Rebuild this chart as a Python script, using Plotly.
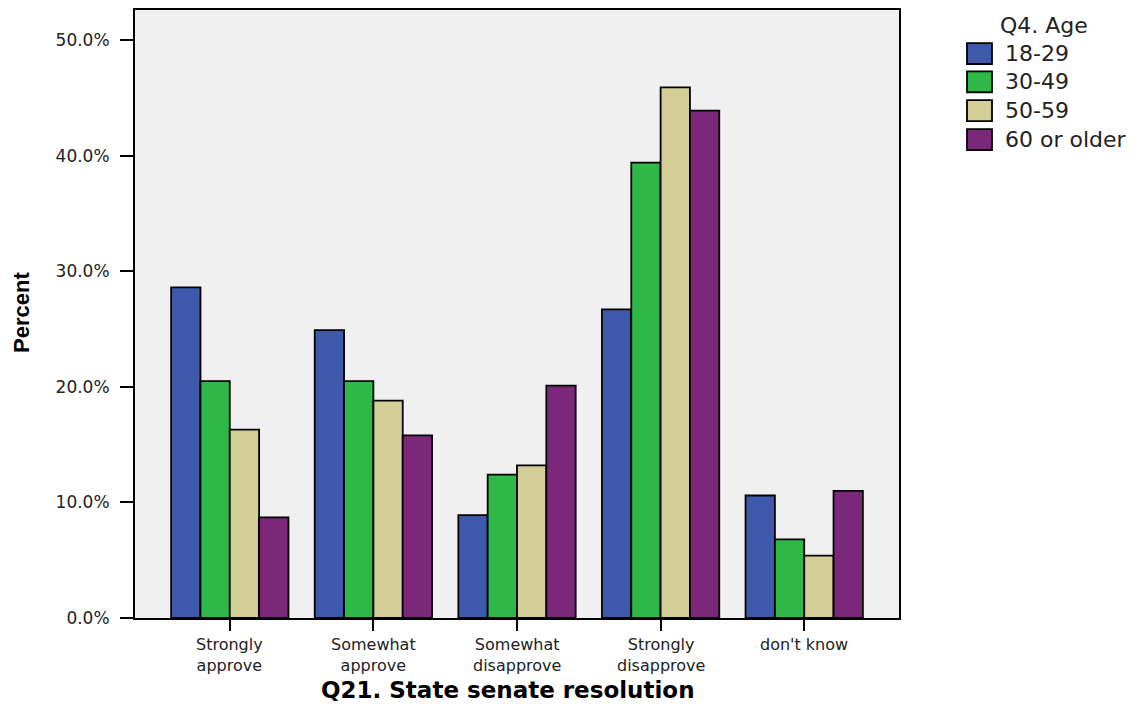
import plotly.graph_objects as go

categories = ["Strongly<br>approve", "Somewhat<br>approve", "Somewhat<br>disapprove",
              "Strongly<br>disapprove", "don't know"]
series_names = ["18-29", "30-49", "50-59", "60 or older"]
v_18_29 = [28.6, 24.9, 8.9, 26.7, 10.6]
v_30_49 = [20.5, 20.5, 12.4, 39.4, 6.8]
v_50_59 = [16.3, 18.8, 13.2, 45.9, 5.4]
v_60_up = [8.7, 15.8, 20.1, 43.9, 11.0]
y_ticks = [0, 10, 20, 30, 40, 50]
y_tick_labels = ["0.0%", "10.0%", "20.0%", "30.0%", "40.0%", "50.0%"]

colors = ["#3e58ac", "#2eb848", "#d3ce97", "#7b287b"]
series = [v_18_29, v_30_49, v_50_59, v_60_up]

FONT = "DejaVu Sans, Liberation Sans, Arial, sans-serif"

fig = go.Figure()
xs = list(range(len(categories)))
for name, vals, col in zip(series_names, series, colors):
    fig.add_trace(go.Bar(
        x=xs, y=vals, name=name,
        marker=dict(color=col, line=dict(color="black", width=1.8)),
        showlegend=False,
    ))

W, H = 1138, 704
L, R, T, B = 135, 899, 8, 618

fig.update_layout(
    width=W, height=H,
    margin=dict(l=L, r=W - R, t=T, b=H - B, pad=0),
    paper_bgcolor="white", plot_bgcolor="#f0f0f0",
    barmode="group", bargap=0.183, bargroupgap=0,
    font=dict(family=FONT, color="black"),
)
fig.update_xaxes(
    range=[-0.66, 4.66], tickvals=xs, ticktext=[""] * len(xs),
    ticks="outside", ticklen=11, tickwidth=2, tickcolor="black",
    showline=True, linecolor="black", linewidth=2, mirror=True,
    showgrid=False, zeroline=False,
)
fig.update_yaxes(
    range=[0, 52.6], tickvals=y_ticks, ticktext=y_tick_labels,
    ticks="outside", ticklen=13, tickwidth=2, tickcolor="black",
    showline=True, linecolor="black", linewidth=2, mirror=True,
    showgrid=False, zeroline=False, ticklabelstandoff=7,
    tickfont=dict(size=17, color="#222222"),
)


def px_x(px):
    return (px - L) / (R - L)


def px_y(py):
    return (B - py) / (B - T)


# category labels
for i, txt in enumerate(categories):
    fig.add_annotation(text=txt, xref="x", yref="paper", x=xs[i], y=px_y(633),
                       xanchor="center", yanchor="top", showarrow=False,
                       font=dict(size=16, color="#222222"))

# axis titles
fig.add_annotation(text="<b>Q21. State senate resolution</b>", xref="paper", yref="paper",
                   x=px_x(508), y=px_y(690), xanchor="center", yanchor="middle",
                   showarrow=False, font=dict(size=23))
fig.add_annotation(text="<b>Percent</b>", xref="paper", yref="paper",
                   x=px_x(21), y=px_y(312), textangle=-90,
                   xanchor="center", yanchor="middle", showarrow=False,
                   font=dict(size=22, family="Liberation Sans Narrow, Arial Narrow, Liberation Sans, sans-serif"))

# legend (drawn manually to match swatch size)
fig.add_annotation(text="Q4. Age", xref="paper", yref="paper", x=px_x(1044), y=px_y(24),
                   xanchor="center", yanchor="middle", showarrow=False,
                   font=dict(size=22, color="#222222"))
row_centers = [51.7, 80, 109, 138]
for name, col, cy in zip(series_names, colors, row_centers):
    fig.add_shape(type="rect", xref="paper", yref="paper",
                  x0=px_x(967), x1=px_x(992), y0=px_y(cy - 10.5), y1=px_y(cy + 10.5),
                  fillcolor=col, line=dict(color="black", width=1.8))
    fig.add_annotation(text=name, xref="paper", yref="paper", x=px_x(1003), y=px_y(cy),
                       xanchor="left", yanchor="middle", showarrow=False,
                       font=dict(size=22, color="#222222"))

fig.write_html("out.html", config={"displayModeBar": False},
               post_script="document.body.style.margin='0px';")
